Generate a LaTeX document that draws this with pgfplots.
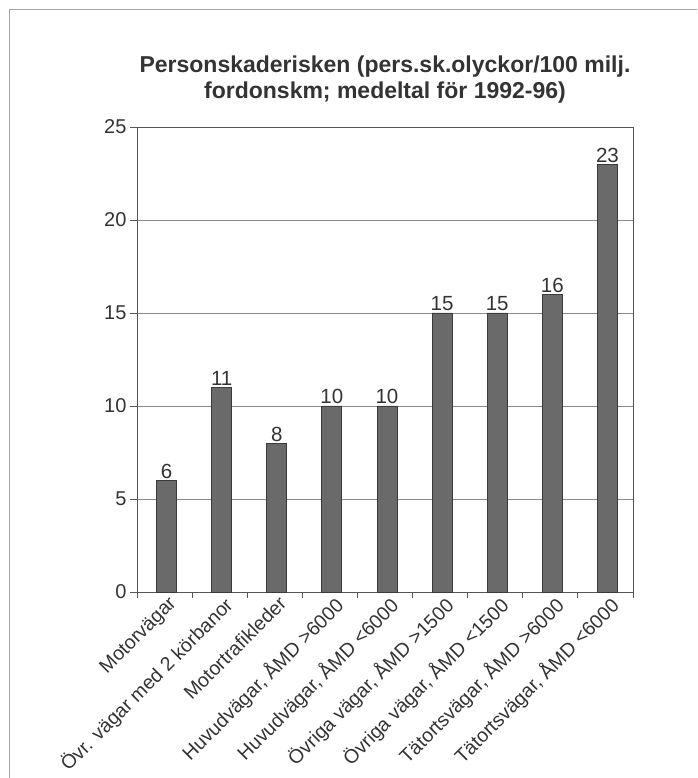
\documentclass[border=0pt]{standalone}
\usepackage{fontspec}
\setmainfont{Liberation Sans}
\usepackage{pgfplots}
\pgfplotsset{compat=1.18}
\definecolor{txt}{HTML}{333333}
\definecolor{barfill}{HTML}{6A6A6A}
\definecolor{baredge}{HTML}{3A3A3A}
\definecolor{axline}{HTML}{555555}
\definecolor{gridc}{HTML}{8A8A8A}
\begin{document}
\begin{tikzpicture}
\useasboundingbox (0pt,0pt) rectangle (697pt,778pt);
\draw[gray!70, line width=1pt] (9pt,0pt) -- (9pt,768pt) -- (697pt,768pt);
\node[font=\fontsize{23}{26}\selectfont\bfseries, text=txt, align=center, anchor=north] at (385pt,725.5pt)
  {Personskaderisken (pers.sk.olyckor/100 milj.\\ fordonskm; medeltal för 1992-96)};
\begin{axis}[
  at={(137pt,186pt)}, anchor=south west,
  scale only axis, width=496pt, height=465pt,
  ymin=0, ymax=25, ytick={0,5,...,25},
  xmin=-0.5, xmax=8.5,
  xtick={0,...,8},
  xticklabels={Motorvägar, Övr. vägar med 2 körbanor, Motortrafikleder, {Huvudvägar, ÅMD >6000}, {Huvudvägar, ÅMD <6000}, {Övriga vägar, ÅMD >1500}, {Övriga vägar, ÅMD <1500}, {Tätortsvägar, ÅMD >6000}, {Tätortsvägar, ÅMD <6000}},
  minor xtick={-0.5,0.5,...,8.5},
  xtick pos=bottom, ytick pos=left,
  major x tick style={draw=none},
  minor x tick style={axline, line width=0.8pt},
  major y tick style={axline, line width=0.8pt},
  tick align=outside,
  major tick length=7pt, minor tick length=6pt,
  xticklabel style={rotate=45, anchor=north east, font=\fontsize{19.5}{19.5}\selectfont, text=txt, inner sep=2pt, xshift=7pt, yshift=3pt},
  yticklabel style={font=\fontsize{20}{20}\selectfont, text=txt},
  /pgf/number format/assume math mode=true,
  ymajorgrids, major grid style={gridc, line width=0.8pt},
  axis line style={axline, line width=0.8pt},
  ybar, bar width=20pt, bar shift=2pt,
  nodes near coords,
  every node near coord/.append style={font=\fontsize{20.5}{20.5}\selectfont, text=txt, inner sep=1.5pt},
  clip=false,
]
\addplot[fill=barfill, draw=baredge, line width=0.8pt] coordinates {
(0,6) (1,11) (2,8) (3,10) (4,10) (5,15) (6,15) (7,16) (8,23)};
\end{axis}
\end{tikzpicture}
\end{document}
